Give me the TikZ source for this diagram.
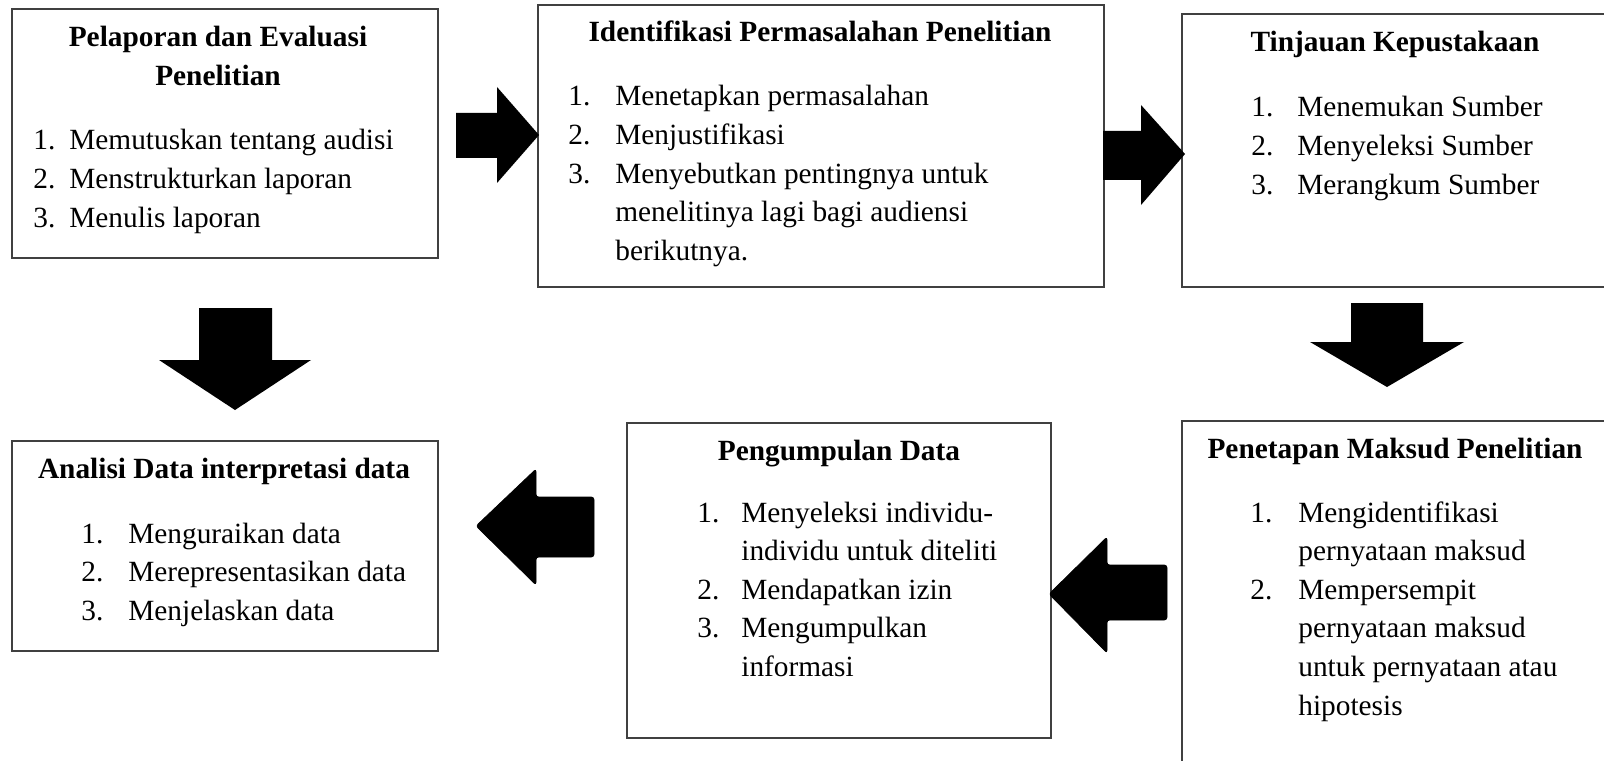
\documentclass[tikz,border=0pt]{standalone}
\usepackage{fontspec}
\setmainfont{Liberation Serif}

\begin{document}
\begin{tikzpicture}[
    x = 0.02cm, y = -0.02cm,
    kotak/.style = {
      rectangle, draw = black!75, line width = 0.9pt, anchor = north west,
      inner sep = 0pt, outer sep = 0pt
    },
    judul/.style = {
      anchor = base, inner sep = 0pt,
      font = \fontsize{16.7}{22}\selectfont\bfseries
    },
    daftar/.style = {
      anchor = base west, inner sep = 0pt,
      font = \fontsize{16.7}{22}\selectfont
    },
    panah/.style = {fill = black},
    panahkiri/.style = {fill = black, draw = black, line join = round,
      rounded corners = 1.5pt}
  ]
    \clip (0,0) rectangle (1604,760);
    \fill [white] (0,0) rectangle (1604,760);

    \node [kotak, minimum width = 8.52cm, minimum height = 4.98cm] (lapor) at (12,9) {};
    \node [kotak, minimum width = 11.32cm, minimum height = 5.64cm] (masalah) at (538,5) {};
    \node [kotak, minimum width = 8.8cm, minimum height = 5.46cm] (pustaka) at (1182,14) {};
    \node [kotak, minimum width = 8.8cm, minimum height = 7.2cm] (maksud) at (1182,421) {};
    \node [kotak, minimum width = 8.48cm, minimum height = 6.3cm] (kumpul) at (627,423) {};
    \node [kotak, minimum width = 8.52cm, minimum height = 4.2cm] (analisis) at (12,441) {};

    \node [judul] (judul-lapor) at (218,47) {\begin{tabular}[t]{@{}c@{}}
      Pelaporan dan Evaluasi\\ Penelitian\end{tabular}};
    \node [daftar] (isi-lapor) at (33,150) {\begin{tabular}[t]{@{}p{0.72cm}@{}l@{}}
      1. & Memutuskan tentang audisi\\
      2. & Menstrukturkan laporan\\
      3. & Menulis laporan
    \end{tabular}};

    \node [judul] (judul-masalah) at (820,42) {Identifikasi Permasalahan Penelitian};
    \node [daftar] (isi-masalah) at (568,106) {\begin{tabular}[t]{@{}p{0.94cm}@{}l@{}}
      1. & Menetapkan permasalahan\\
      2. & Menjustifikasi\\
      3. & Menyebutkan pentingnya untuk\\
         & menelitinya lagi bagi audiensi\\
         & berikutnya.
    \end{tabular}};

    \node [judul] (judul-pustaka) at (1395,52) {Tinjauan Kepustakaan};
    \node [daftar] (isi-pustaka) at (1251,117) {\begin{tabular}[t]{@{}p{0.92cm}@{}l@{}}
      1. & Menemukan Sumber\\
      2. & Menyeleksi Sumber\\
      3. & Merangkum Sumber
    \end{tabular}};

    \node [judul] (judul-maksud) at (1395,458) {Penetapan Maksud Penelitian};
    \node [daftar] (isi-maksud) at (1250,522) {\begin{tabular}[t]{@{}p{0.96cm}@{}l@{}}
      1. & Mengidentifikasi\\
         & pernyataan maksud\\
      2. & Mempersempit\\
         & pernyataan maksud\\
         & untuk pernyataan atau\\
         & hipotesis
    \end{tabular}};

    \node [judul] (judul-kumpul) at (839,460) {Pengumpulan Data};
    \node [daftar] (isi-kumpul) at (697,522) {\begin{tabular}[t]{@{}p{0.88cm}@{}l@{}}
      1. & Menyeleksi individu-\\
         & individu untuk diteliti\\
      2. & Mendapatkan izin\\
      3. & Mengumpulkan\\
         & informasi
    \end{tabular}};

    \node [judul] (judul-analisis) at (224,478) {Analisi Data interpretasi data};
    \node [daftar] (isi-analisis) at (81,543) {\begin{tabular}[t]{@{}p{0.94cm}@{}l@{}}
      1. & Menguraikan data\\
      2. & Merepresentasikan data\\
      3. & Menjelaskan data
    \end{tabular}};

    \fill [panah] (456,113) -- (497,113) -- (497,87) -- (539,135) -- (497,183)
      -- (497,158) -- (456,158) -- cycle;
    \fill [panah] (1103,131) -- (1141,131) -- (1141,105) -- (1185,154) -- (1141,205)
      -- (1141,180) -- (1103,180) -- cycle;
    \fill [panah] (1351,303) -- (1423,303) -- (1423,342) -- (1464,342) -- (1387,387)
      -- (1310,342) -- (1351,342) -- cycle;
    \fill [panah] (199,308) -- (272,308) -- (272,360) -- (311,360) -- (235,410)
      -- (159,360) -- (199,360) -- cycle;
    \filldraw [panahkiri] (1167,565) -- (1107,565) -- (1107,537) -- (1049,594)
      -- (1107,653) -- (1107,620) -- (1167,620) -- cycle;
    \filldraw [panahkiri] (594,497) -- (536,497) -- (536,469) -- (476,526)
      -- (536,585) -- (536,557) -- (594,557) -- cycle;
\end{tikzpicture}
\end{document}
